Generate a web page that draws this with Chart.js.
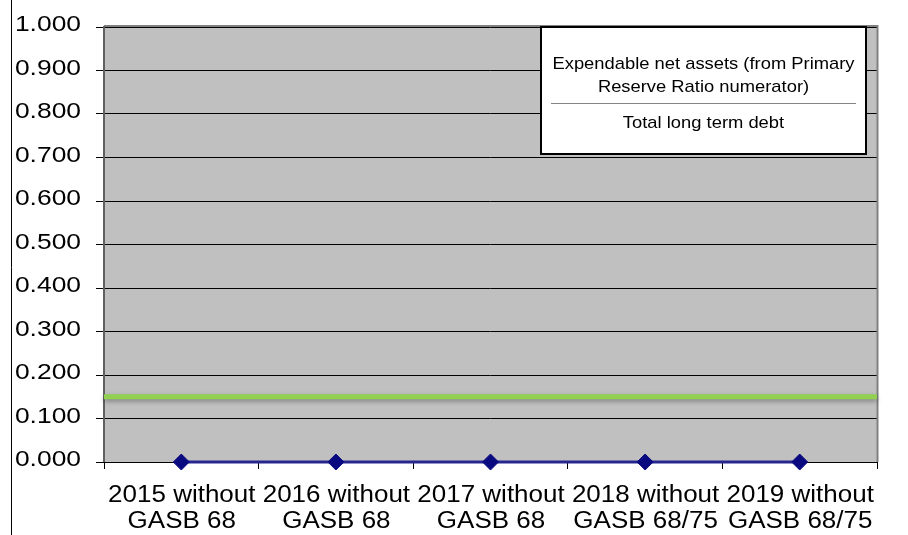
<!DOCTYPE html>
<html><head><meta charset="utf-8">
<script src="https://cdn.jsdelivr.net/npm/chart.js@4"></script>
<style>html,body{margin:0;padding:0;background:#fff;}#wrap{width:908px;height:535px;position:relative;}</style>
</head><body><div id="wrap"><canvas id="c" width="908" height="535"></canvas></div>
<script>
const categories = [["2015 without","GASB 68"],["2016 without","GASB 68"],["2017 without","GASB 68"],["2018 without","GASB 68/75"],["2019 without","GASB 68/75"]];
const ratioValues = [0, 0, 0, 0, 0];
const thresholdValue = [0.15];
const yTicks = [0,0.1,0.2,0.3,0.4,0.5,0.6,0.7,0.8,0.9,1.0];
const boxLines = ["Expendable net assets (from Primary","Reserve Ratio numerator)","Total long term debt"];

const FONT = '"Liberation Sans", Arial, sans-serif';

function stretchText(ctx, text, x, y, size, sx, align, baseline){
  ctx.save();
  ctx.font = size + 'px ' + FONT;
  ctx.textAlign = align; ctx.textBaseline = baseline;
  ctx.translate(x, y); ctx.scale(sx, 1);
  ctx.fillText(text, 0, 0);
  ctx.restore();
}

const decor = {
  id:'decor',
  beforeDraw(chart){
    const {ctx, chartArea:a} = chart;
    ctx.save();
    ctx.fillStyle='#C0C0C0';
    ctx.fillRect(a.left,a.top,a.right-a.left,a.bottom-a.top);
    ctx.restore();
  },
  beforeDatasetsDraw(chart){
    const {ctx, chartArea:a, scales} = chart;
    ctx.save();
    ctx.strokeStyle='#808080'; ctx.lineWidth=2;
    ctx.beginPath();
    ctx.moveTo(a.left,a.top-1); ctx.lineTo(a.right+0.5,a.top-1); ctx.lineTo(a.right+0.5,a.bottom);
    ctx.stroke();
    ctx.strokeStyle='#606060'; ctx.lineWidth=2;
    ctx.beginPath(); ctx.moveTo(a.left,a.top-1); ctx.lineTo(a.left,a.bottom); ctx.stroke();
    const y = scales.y.getPixelForValue(thresholdValue[0]);
    ctx.shadowColor='rgba(0,0,0,0.35)'; ctx.shadowBlur=5; ctx.shadowOffsetY=2;
    ctx.strokeStyle='#92D050'; ctx.lineWidth=5;
    ctx.beginPath(); ctx.moveTo(a.left,y); ctx.lineTo(a.right,y); ctx.stroke();
    ctx.restore();
  },
  afterDraw(chart){
    const {ctx, scales} = chart;
    ctx.save();
    ctx.fillStyle='#000';
    const ys = scales.y;
    ys.ticks.forEach((t,i)=>{
      const py = ys.getPixelForTick(i);
      stretchText(ctx, Number(t.value).toFixed(3), 81, py-2, 22, 1.2, 'right', 'middle');
    });
    const xs = scales.x;
    categories.forEach((lab,i)=>{
      const px = xs.getPixelForTick(i);
      stretchText(ctx, lab[0], px+0.5, 501.5, 23, 1.13, 'center', 'alphabetic');
      stretchText(ctx, lab[1], px+0.5, 528, 23, 1.13, 'center', 'alphabetic');
    });
    ctx.strokeStyle='#000'; ctx.lineWidth=1;
    ctx.beginPath(); ctx.moveTo(11.5,0); ctx.lineTo(11.5,535); ctx.stroke();
    const bx=541, by=27, bw=325, bh=127;
    ctx.fillStyle='#fff'; ctx.fillRect(bx,by,bw,bh);
    ctx.strokeStyle='#000'; ctx.lineWidth=2; ctx.strokeRect(bx,by,bw,bh);
    ctx.fillStyle='#000';
    const cx=703.5;
    stretchText(ctx, boxLines[0], cx, 69, 17, 1.08, 'center', 'alphabetic');
    stretchText(ctx, boxLines[1], cx, 91.5, 17, 1.08, 'center', 'alphabetic');
    stretchText(ctx, boxLines[2], cx, 128, 17, 1.08, 'center', 'alphabetic');
    ctx.strokeStyle='#666'; ctx.lineWidth=0.8;
    ctx.beginPath(); ctx.moveTo(551,103.5); ctx.lineTo(856,103.5); ctx.stroke();
    ctx.restore();
  }
};

new Chart(document.getElementById('c'),{
  type:'line',
  data:{labels:categories,datasets:[{
    data:ratioValues,borderColor:'#262690',backgroundColor:'#0A0A80',borderWidth:3,
    pointStyle:'rectRot',pointRadius:8,pointHoverRadius:8,pointBackgroundColor:'#0A0A80',pointBorderColor:'#0A0A80',pointBorderWidth:1,tension:0,clip:false
  }]},
  plugins:[decor],
  options:{
    responsive:false,animation:false,devicePixelRatio:1,
    layout:{padding:{left:0,right:31,top:27,bottom:0}},
    plugins:{legend:{display:false},tooltip:{enabled:false}},
    scales:{
      x:{offset:true,
        grid:{display:true,offset:true,drawOnChartArea:false,color:'#000',tickLength:7,tickColor:'#000'},
        border:{display:true,color:'#000',width:1},
        ticks:{display:false,autoSkip:false},
        afterFit(s){s.height=73;}
      },
      y:{min:0,max:1,
        afterBuildTicks(s){s.ticks=yTicks.map(v=>({value:v}));},
        grid:{color:'#000',lineWidth:1,tickLength:8,tickColor:'#000'},
        border:{display:false},
        ticks:{display:false},
        afterFit(s){s.width=104;}
      }
    }
  }
});
</script></body></html>
